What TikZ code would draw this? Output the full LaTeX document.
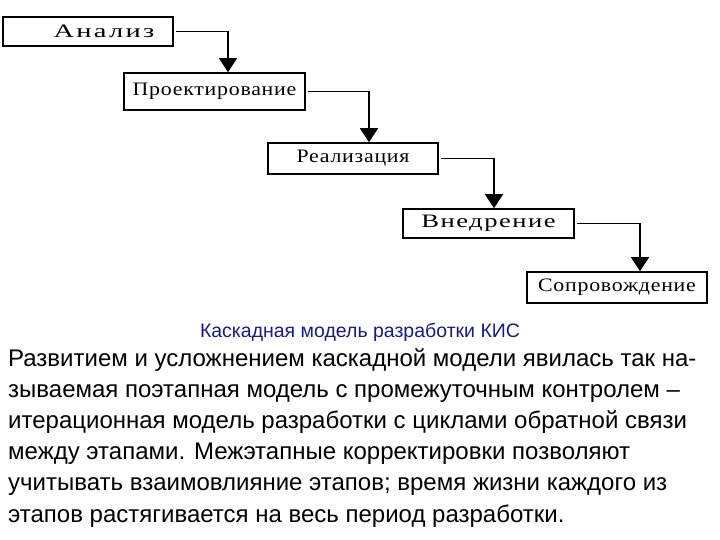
\documentclass[tikz,border=0pt]{standalone}
\usepackage{fontspec}
\setmainfont{Liberation Serif}
\newfontfamily\boxfont[FakeStretch=1.15,LetterSpace=4]{Liberation Serif}
\newfontfamily\bodyfont{Liberation Sans}
\usetikzlibrary{arrows.meta,positioning}
\definecolor{capblue}{RGB}{25,25,140}
\tikzset{
  stage/.style={draw, line width=1.6pt, inner sep=0pt,
    font=\boxfont\fontsize{19}{22}\selectfont},
  flow/.style={line width=1.6pt, -{Triangle[width=18pt,length=14pt]}},
}
\begin{document}
\begin{tikzpicture}[x=1pt,y=-1pt]
  \useasboundingbox (0,0) rectangle (720,540);
  % stages of the cascade
  \node[stage, minimum width=170pt, minimum height=29pt] (an) at (88,31.5)
    {\hspace*{32pt}\addfontfeature{FakeStretch=1.5,LetterSpace=12}Анализ};
  \node[stage, minimum width=181pt, minimum height=37pt] (pr) at (214.5,91.5) {Проектирование};
  \node[stage, minimum width=170pt, minimum height=31pt] (re) at (353,158.5) {Реализация};
  \node[stage, minimum width=171pt, minimum height=29pt] (vn) at (488.5,223.5)
    {\addfontfeature{FakeStretch=1.4,LetterSpace=8}Внедрение};
  \node[stage, minimum width=180pt, minimum height=31pt] (so) at (617,287.5) {Сопровождение};
  % arrows between stages
  \draw[flow] ([xshift=2pt]an.east) -| ([xshift=13.5pt]pr.north);
  \draw[flow] ([xshift=2pt]pr.east) -| ([xshift=16pt]re.north);
  \draw[flow] ([xshift=2pt]re.east) -| ([xshift=5.5pt]vn.north);
  \draw[flow] ([xshift=2pt]vn.east) -| ([xshift=23pt]so.north);
  % caption and text
  \node[anchor=base, inner sep=0pt, text=capblue, font=\bodyfont\fontsize{19.5}{22}\selectfont]
    (cap) at (360,337) {Каскадная модель разработки КИС};
  \node[anchor=base west, inner sep=0pt, align=left, font=\bodyfont\fontsize{24}{31.2}\selectfont]
    (txt) at (8,522) {Развитием и усложнением каскадной модели явилась так на-\\
    зываемая поэтапная модель с промежуточным контролем –\\
    итерационная модель разработки с циклами обратной связи\\
    между этапами. Межэтапные корректировки позволяют\\
    учитывать взаимовлияние этапов; время жизни каждого из\\
    этапов растягивается на весь период разработки.};
\end{tikzpicture}
\end{document}
